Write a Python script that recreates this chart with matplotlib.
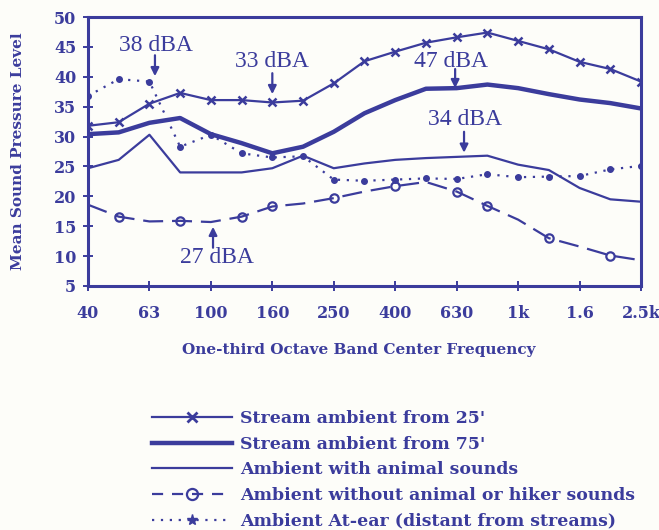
import matplotlib
matplotlib.use("Agg")
import matplotlib.pyplot as plt
from matplotlib.lines import Line2D

# one-third octave bands, 40 Hz .. 2.5 kHz
bands = ["40", "50", "63", "80", "100", "125", "160", "200", "250", "315",
         "400", "500", "630", "800", "1k", "1.25k", "1.6k", "2k", "2.5k"]
tick_labels = ["40", "63", "100", "160", "250", "400", "630", "1k", "1.6", "2.5k"]

stream_25 = [31.8, 32.4, 35.5, 37.3, 36.1, 36.1, 35.7, 36.0, 38.9, 42.6,
             44.2, 45.7, 46.6, 47.4, 46.0, 44.6, 42.5, 41.3, 39.2]
stream_75 = [30.4, 30.7, 32.3, 33.1, 30.4, 28.9, 27.2, 28.3, 30.8, 33.9,
             36.1, 38.0, 38.1, 38.7, 38.1, 37.1, 36.2, 35.6, 34.7]
animal = [24.7, 26.1, 30.3, 24.0, 24.0, 24.0, 24.7, 26.8, 24.7, 25.5,
          26.1, 26.4, 26.6, 26.8, 25.3, 24.4, 21.4, 19.5, 19.1]
no_animal = [18.6, 16.6, 15.8, 15.9, 15.7, 16.6, 18.3, 18.8, 19.7, 20.8,
             21.7, 22.4, 20.8, 18.4, 16.1, 13.0, 11.6, 10.1, 9.3]
at_ear = [36.8, 39.6, 39.2, 28.3, 30.3, 27.2, 26.5, 26.7, 22.8, 22.6,
          22.8, 23.0, 22.9, 23.7, 23.2, 23.3, 23.4, 24.5, 25.1]

# (text, text x, text y, arrow x, arrow from y, arrow to y)
notes = [("38 dBA", 2.2, 45.3, 2.18, 43.6, 40.1),
         ("33 dBA", 6.0, 42.5, 6.0, 40.6, 37.1),
         ("47 dBA", 11.8, 42.6, 11.95, 41.3, 38.1),
         ("34 dBA", 12.27, 32.8, 12.24, 30.8, 27.3),
         ("27 dBA", 4.2, 9.7, 4.07, 11.4, 14.9)]

col = "#3b3c9c"
serif = "Liberation Serif"
wide = "DejaVu Serif"

fig = plt.figure(figsize=(6.59, 5.30), dpi=100, facecolor="#fdfdf9")
ax = fig.add_axes([0.1335, 0.4604, 0.8392, 0.5075])
ax.set_facecolor("#fdfdf9")
x = list(range(len(bands)))

ax.plot(x, stream_25, color=col, lw=1.6, marker="x", ms=6, mew=1.8)
ax.plot(x, stream_75, color=col, lw=3.2)
ax.plot(x, animal, color=col, lw=1.6)
ax.plot(x, no_animal, color=col, lw=1.6, dashes=(9, 4), marker="o", ms=6,
        mfc="none", mew=1.6, markevery=[1, 3, 5, 6, 8, 10, 12, 13, 15, 17])
ax.plot(x, at_ear, color=col, lw=1.6, ls=(0, (1, 3)), marker="o", ms=4)

for t, tx, ty, axx, y0, y1 in notes:
    ax.text(tx, ty, t, color=col, fontsize=17, family=serif,
            ha="center", va="center")
    ax.annotate("", xy=(axx, y1), xytext=(axx, y0),
                arrowprops=dict(arrowstyle="-|>", color=col, lw=1.6,
                                mutation_scale=12, shrinkA=0, shrinkB=0))

ax.set_xlim(0, 18)
ax.set_ylim(5, 50)
ax.set_xticks(range(0, 19, 2))
ax.set_xticklabels(tick_labels)
ax.set_yticks(range(5, 51, 5))
ax.tick_params(direction="inout", length=7, width=1.4, colors=col,
               labelsize=11.5)
ax.tick_params(axis="x", pad=10)
ax.tick_params(axis="y", pad=5)
for lab in ax.get_xticklabels() + ax.get_yticklabels():
    lab.set_family(wide)
    lab.set_fontweight("bold")
for s in ax.spines.values():
    s.set_color(col)
    s.set_linewidth(2.2)

ax.set_ylabel("Mean Sound Pressure Level", color=col, fontsize=11,
              family=wide, fontweight="bold")
ax.yaxis.set_label_coords(-0.114, 0.5)
ax.set_xlabel("One-third Octave Band Center Frequency", color=col,
              fontsize=11, family=wide, fontweight="bold")
ax.xaxis.set_label_coords(0.49, -0.212)

handles = [
    Line2D([], [], color=col, lw=1.6, marker="x", ms=7, mew=2),
    Line2D([], [], color=col, lw=3.2),
    Line2D([], [], color=col, lw=1.6),
    Line2D([], [], color=col, lw=1.6, dashes=(5, 4), marker="o", ms=8,
           mfc="none", mew=1.6),
    Line2D([], [], color=col, lw=1.6, ls=(0, (1, 3)), marker="*", ms=8),
]
labels = ["Stream ambient from 25'", "Stream ambient from 75'",
          "Ambient with animal sounds",
          "Ambient without animal or hiker sounds",
          "Ambient At-ear (distant from streams)"]
leg = fig.legend(handles, labels, loc="upper left",
                 bbox_to_anchor=(152 / 659, 1 - 410 / 530), frameon=False,
                 borderpad=0, borderaxespad=0,
                 handlelength=4.6, numpoints=1, labelspacing=0.5,
                 handletextpad=0.45,
                 prop={"family": wide, "weight": "bold", "size": 12.5})
for t in leg.get_texts():
    t.set_color(col)

fig.savefig("out.png", dpi=100, facecolor=fig.get_facecolor())
